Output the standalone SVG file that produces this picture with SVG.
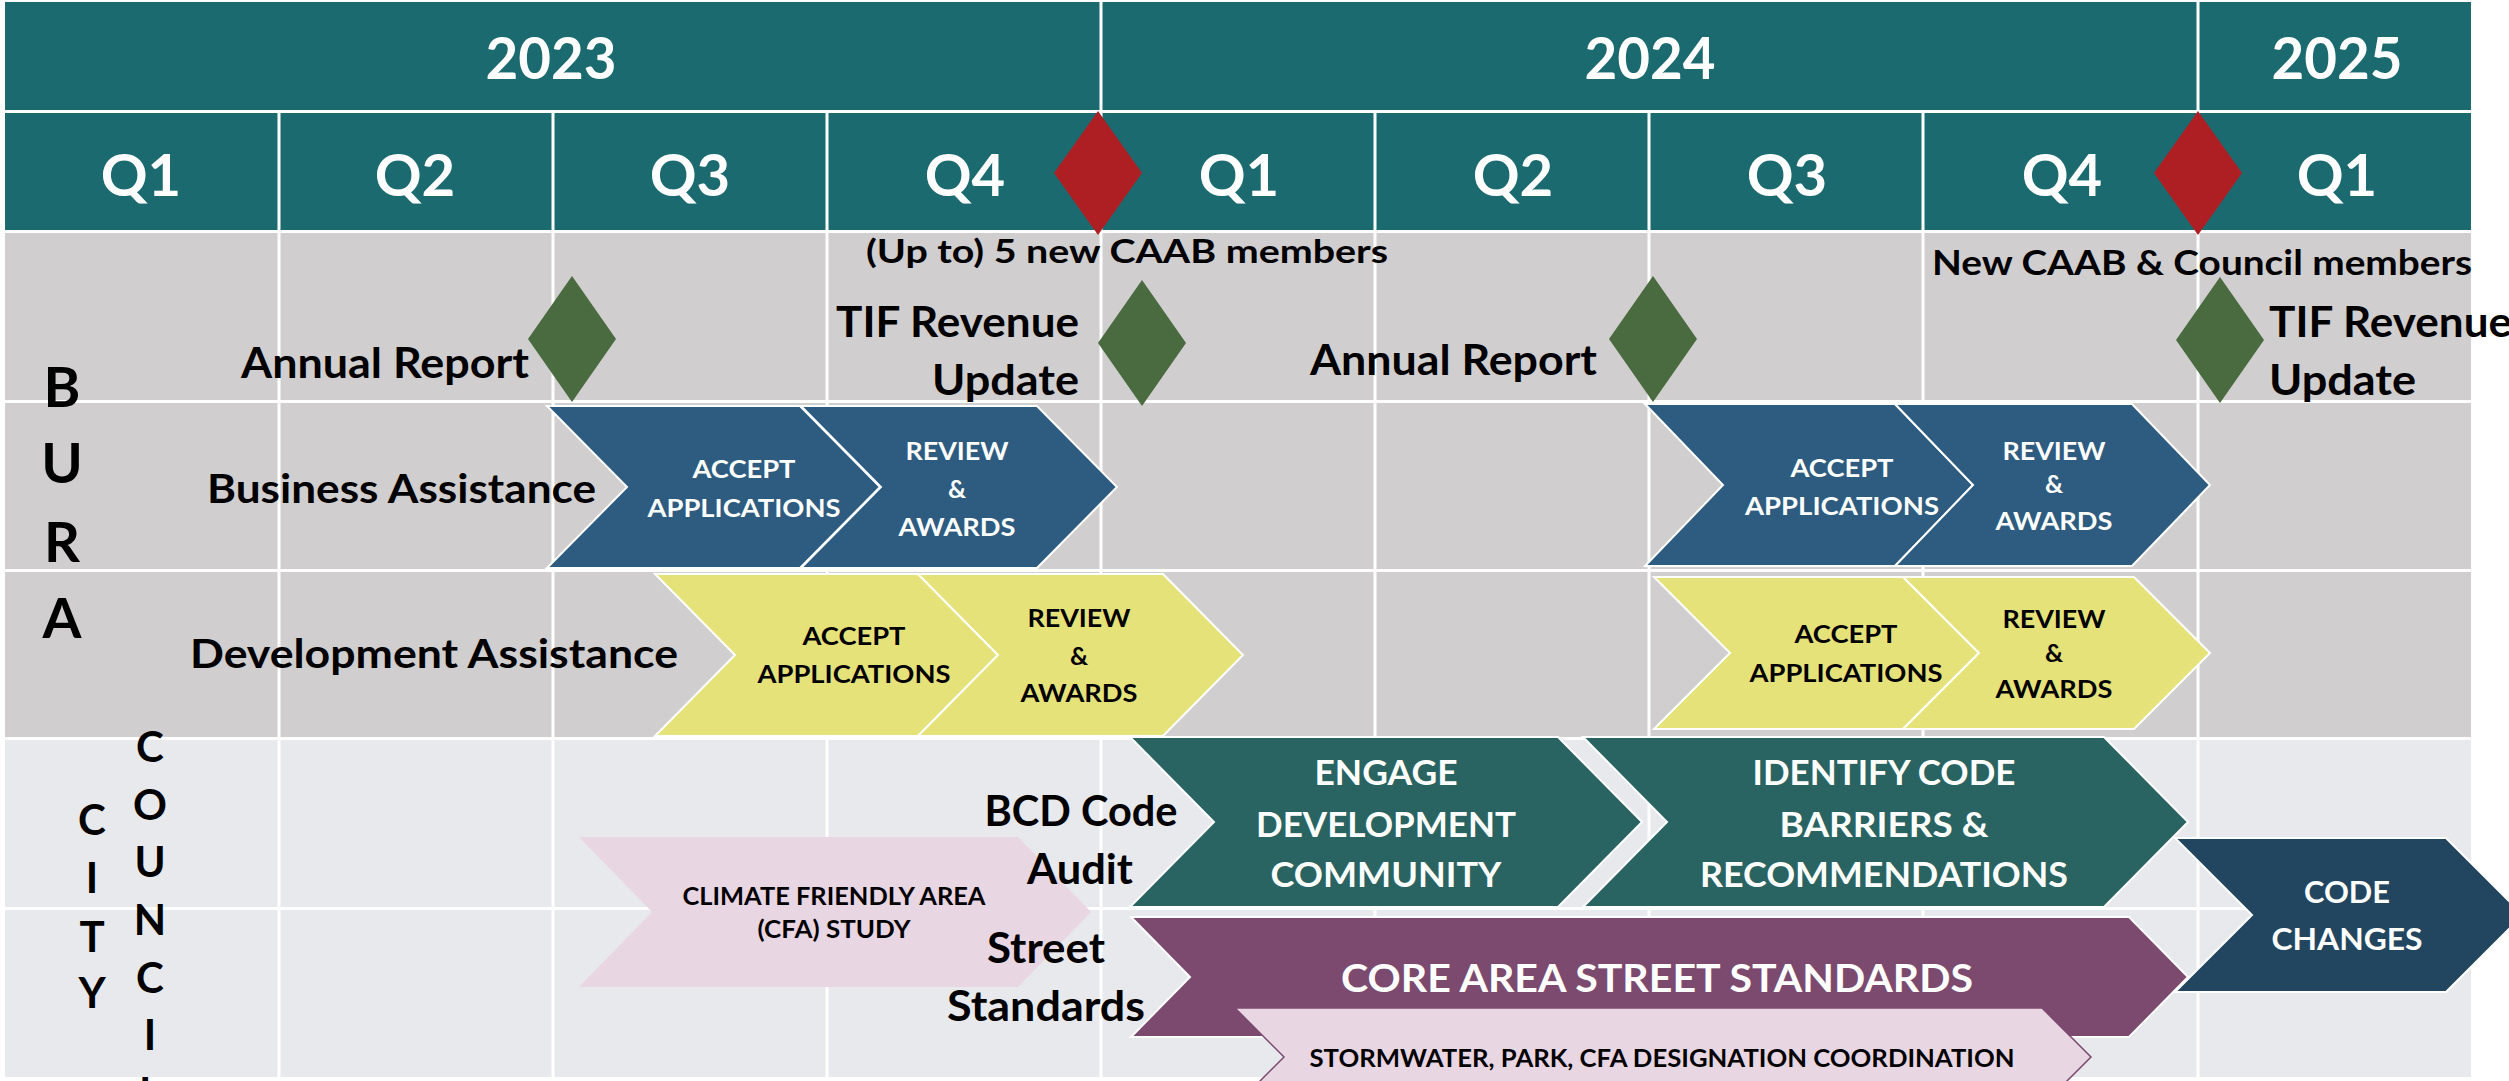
<svg xmlns="http://www.w3.org/2000/svg" width="2509" height="1081" viewBox="0 0 2509 1081">
<style>
text{font-family:Lato,'Liberation Sans',sans-serif;font-weight:700}
.w{fill:#fff}.k{fill:#000}
.m{text-anchor:middle}
.hdr{fill:#1B6A6F}
.bura{fill:#D0CECF}
.city{fill:#E8E9EC}
.grid{stroke:#fff;stroke-width:3}
.blue{fill:#2D5C80;stroke:#fff;stroke-width:2}
.yel{fill:#E6E27A;stroke:#fff;stroke-width:2}
.teal{fill:#2A6462;stroke:#fff;stroke-width:2}
.purp{fill:#7B4A6E;stroke:#fff;stroke-width:2}
.pink{fill:#E8D6E2}
.storm{fill:#E8D6E2;stroke:#7B4A6E;stroke-width:1.5}
.navy{fill:#22465F;stroke:#fff;stroke-width:2}
.red{fill:#AE1F24}
.grn{fill:#4A6A3F}
.yr{font-size:58px}
.q{font-size:58px}
.lbl{font-size:42px}
.side{font-size:40px}
.big{font-size:56px}
.cc{font-size:42px}
.s25{font-size:25px}
.s35{font-size:35px}
</style>
<rect width="2509" height="1081" fill="#fff"/>
<g id="grid">
<rect class="hdr" x="5" y="2" width="2466" height="108"/>
<rect class="hdr" x="5" y="113" width="2466" height="117"/>
<rect class="bura" x="5" y="233" width="2466" height="167"/>
<rect class="bura" x="5" y="403" width="2466" height="166"/>
<rect class="bura" x="5" y="572" width="2466" height="165"/>
<rect class="city" x="5" y="740" width="2466" height="167"/>
<rect class="city" x="5" y="910" width="2466" height="167"/>
<line class="grid" x1="279" y1="113" x2="279" y2="1077"/>
<line class="grid" x1="553" y1="113" x2="553" y2="1077"/>
<line class="grid" x1="827" y1="113" x2="827" y2="1077"/>
<line class="grid" x1="1101" y1="2" x2="1101" y2="1077"/>
<line class="grid" x1="1375" y1="113" x2="1375" y2="1077"/>
<line class="grid" x1="1649" y1="113" x2="1649" y2="1077"/>
<line class="grid" x1="1923" y1="113" x2="1923" y2="1077"/>
<line class="grid" x1="2198" y1="2" x2="2198" y2="1077"/>
</g>
<g id="years">
<text class="w m yr" x="551" y="79" textLength="131" lengthAdjust="spacingAndGlyphs">2023</text>
<text class="w m yr" x="1650" y="79" textLength="131" lengthAdjust="spacingAndGlyphs">2024</text>
<text class="w m yr" x="2337" y="79" textLength="131" lengthAdjust="spacingAndGlyphs">2025</text>
</g>
<g id="quarters">
<text class="w m q" x="141" y="196">Q1</text>
<text class="w m q" x="415" y="196">Q2</text>
<text class="w m q" x="690" y="196">Q3</text>
<text class="w m q" x="965" y="196">Q4</text>
<text class="w m q" x="1239" y="196">Q1</text>
<text class="w m q" x="1513" y="196">Q2</text>
<text class="w m q" x="1787" y="196">Q3</text>
<text class="w m q" x="2062" y="196">Q4</text>
<text class="w m q" x="2337" y="196">Q1</text>
</g>
<g id="group-labels">
<text class="k m big" x="62" y="407">B</text>
<text class="k m big" x="62" y="483">U</text>
<text class="k m big" x="62" y="562">R</text>
<text class="k m big" x="62" y="638">A</text>
<text class="k m cc" x="92" y="835">C</text>
<text class="k m cc" x="92" y="893">I</text>
<text class="k m cc" x="92" y="952">T</text>
<text class="k m cc" x="92" y="1008">Y</text>
<text class="k m cc" x="150" y="762">C</text>
<text class="k m cc" x="150" y="820">O</text>
<text class="k m cc" x="150" y="877">U</text>
<text class="k m cc" x="150" y="935">N</text>
<text class="k m cc" x="150" y="993">C</text>
<text class="k m cc" x="150" y="1050">I</text>
<text class="k m cc" x="150" y="1108">L</text>
</g>
<g id="row-labels">
<text class="k side" x="207" y="503" textLength="389" lengthAdjust="spacingAndGlyphs">Business Assistance</text>
<text class="k side" x="190" y="668" textLength="488" lengthAdjust="spacingAndGlyphs">Development Assistance</text>
</g>
<g id="cfa-study">
<polygon class="pink" points="579,837 1018,837 1091,912 1018,987 579,987 652,912"/>
<text class="k m" style="font-size:24px" x="834" y="905" textLength="303" lengthAdjust="spacingAndGlyphs">CLIMATE FRIENDLY AREA</text>
<text class="k m" style="font-size:24px" x="834" y="938" textLength="153" lengthAdjust="spacingAndGlyphs">(CFA) STUDY</text>
</g>
<g id="council-labels">
<text class="k m lbl" x="1081" y="826" textLength="193" lengthAdjust="spacingAndGlyphs">BCD Code</text>
<text class="k m lbl" x="1080" y="884" textLength="106" lengthAdjust="spacingAndGlyphs">Audit</text>
<text class="k m lbl" x="1046" y="963" textLength="118" lengthAdjust="spacingAndGlyphs">Street</text>
<text class="k m lbl" x="1046" y="1021" textLength="198" lengthAdjust="spacingAndGlyphs">Standards</text>
</g>
<g id="milestone-labels">
<text class="k" style="font-size:32px" x="866" y="263" textLength="522" lengthAdjust="spacingAndGlyphs">(Up to) 5 new CAAB members</text>
<text class="k" style="font-size:35px" x="1932" y="275" textLength="540" lengthAdjust="spacingAndGlyphs">New CAAB &amp; Council members</text>
<text class="k lbl" x="241" y="378" textLength="288" lengthAdjust="spacingAndGlyphs">Annual Report</text>
<text class="k lbl" x="1310" y="375" textLength="287" lengthAdjust="spacingAndGlyphs">Annual Report</text>
<text class="k lbl" x="836" y="337" textLength="243" lengthAdjust="spacingAndGlyphs">TIF Revenue</text>
<text class="k lbl" x="932" y="395" textLength="147" lengthAdjust="spacingAndGlyphs">Update</text>
<text class="k lbl" x="2269" y="337" textLength="243" lengthAdjust="spacingAndGlyphs">TIF Revenue</text>
<text class="k lbl" x="2269" y="395" textLength="147" lengthAdjust="spacingAndGlyphs">Update</text>
</g>
<g id="business-2023">
<polygon class="blue" points="547,406 800,406 880,487 800,568 547,568 627,487"/>
<polygon class="blue" points="801,406 1037,406 1117,487 1037,568 801,568 881,487"/>
<text class="w m s25" x="744" y="478" textLength="103" lengthAdjust="spacingAndGlyphs">ACCEPT</text>
<text class="w m s25" x="744" y="517" textLength="193" lengthAdjust="spacingAndGlyphs">APPLICATIONS</text>
<text class="w m s25" x="957" y="460" textLength="103" lengthAdjust="spacingAndGlyphs">REVIEW</text>
<text class="w m s25" x="957" y="498">&amp;</text>
<text class="w m s25" x="957" y="536" textLength="117" lengthAdjust="spacingAndGlyphs">AWARDS</text>
</g>
<g id="business-2024">
<polygon class="blue" points="1645,404 1895,404 1973,485 1895,566 1645,566 1723,485"/>
<polygon class="blue" points="1895,404 2132,404 2210,485 2132,566 1895,566 1973,485"/>
<text class="w m s25" x="1842" y="477" textLength="103" lengthAdjust="spacingAndGlyphs">ACCEPT</text>
<text class="w m s25" x="1842" y="515" textLength="194" lengthAdjust="spacingAndGlyphs">APPLICATIONS</text>
<text class="w m s25" x="2054" y="460" textLength="103" lengthAdjust="spacingAndGlyphs">REVIEW</text>
<text class="w m s25" x="2054" y="493">&amp;</text>
<text class="w m s25" x="2054" y="530" textLength="117" lengthAdjust="spacingAndGlyphs">AWARDS</text>
</g>
<g id="development-2023">
<polygon class="yel" points="655,574 918,574 998,655 918,736 655,736 735,655"/>
<polygon class="yel" points="918,574 1163,574 1243,655 1163,736 918,736 998,655"/>
<text class="k m s25" x="854" y="645" textLength="103" lengthAdjust="spacingAndGlyphs">ACCEPT</text>
<text class="k m s25" x="854" y="683" textLength="193" lengthAdjust="spacingAndGlyphs">APPLICATIONS</text>
<text class="k m s25" x="1079" y="627" textLength="103" lengthAdjust="spacingAndGlyphs">REVIEW</text>
<text class="k m s25" x="1079" y="665">&amp;</text>
<text class="k m s25" x="1079" y="702" textLength="117" lengthAdjust="spacingAndGlyphs">AWARDS</text>
</g>
<g id="development-2024">
<polygon class="yel" points="1654,577 1903,577 1979,653 1903,729 1654,729 1730,653"/>
<polygon class="yel" points="1903,577 2134,577 2210,653 2134,729 1903,729 1979,653"/>
<text class="k m s25" x="1846" y="643" textLength="103" lengthAdjust="spacingAndGlyphs">ACCEPT</text>
<text class="k m s25" x="1846" y="682" textLength="193" lengthAdjust="spacingAndGlyphs">APPLICATIONS</text>
<text class="k m s25" x="2054" y="628" textLength="103" lengthAdjust="spacingAndGlyphs">REVIEW</text>
<text class="k m s25" x="2054" y="662">&amp;</text>
<text class="k m s25" x="2054" y="698" textLength="117" lengthAdjust="spacingAndGlyphs">AWARDS</text>
</g>
<g id="engage">
<polygon class="teal" points="1130,737 1558,737 1642,822 1558,907 1130,907 1214,822"/>
<text class="w m s35" x="1386" y="785" textLength="143" lengthAdjust="spacingAndGlyphs">ENGAGE</text>
<text class="w m s35" x="1386" y="837" textLength="260" lengthAdjust="spacingAndGlyphs">DEVELOPMENT</text>
<text class="w m s35" x="1386" y="887" textLength="231" lengthAdjust="spacingAndGlyphs">COMMUNITY</text>
</g>
<g id="identify">
<polygon class="teal" points="1583,737 2104,737 2188,822 2104,907 1583,907 1667,822"/>
<text class="w m s35" x="1884" y="785" textLength="263" lengthAdjust="spacingAndGlyphs">IDENTIFY CODE</text>
<text class="w m s35" x="1884" y="837" textLength="209" lengthAdjust="spacingAndGlyphs">BARRIERS &amp;</text>
<text class="w m s35" x="1884" y="887" textLength="368" lengthAdjust="spacingAndGlyphs">RECOMMENDATIONS</text>
</g>
<g id="code-changes">
<polygon class="navy" points="2175,838 2446,838 2523,915 2446,992 2175,992 2252,915"/>
<text class="w m" style="font-size:31px" x="2347" y="903" textLength="86" lengthAdjust="spacingAndGlyphs">CODE</text>
<text class="w m" style="font-size:31px" x="2347" y="950" textLength="151" lengthAdjust="spacingAndGlyphs">CHANGES</text>
</g>
<g id="street-standards">
<polygon class="purp" points="1131,917 2129,917 2188,977 2129,1037 1131,1037 1190,977"/>
<text class="w m" style="font-size:39px" x="1657" y="992" textLength="632" lengthAdjust="spacingAndGlyphs">CORE AREA STREET STANDARDS</text>
</g>
<g id="stormwater">
<polygon class="storm" points="1235,1008 2042,1008 2091,1057 2042,1106 1235,1106 1284,1057"/>
<text class="k m" style="font-size:24px" x="1662" y="1067" textLength="705" lengthAdjust="spacingAndGlyphs">STORMWATER, PARK, CFA DESIGNATION COORDINATION</text>
</g>
<g id="milestones">
<polygon class="red" points="1098,111 1142,173 1098,235 1054,173"/>
<polygon class="red" points="2198,111 2242,173 2198,235 2154,173"/>
<polygon class="grn" points="572,276 616,339 572,402 528,339"/>
<polygon class="grn" points="1142,280 1186,343 1142,406 1098,343"/>
<polygon class="grn" points="1653,276 1697,339 1653,402 1609,339"/>
<polygon class="grn" points="2220,277 2264,340 2220,403 2176,340"/>
</g>
</svg>
